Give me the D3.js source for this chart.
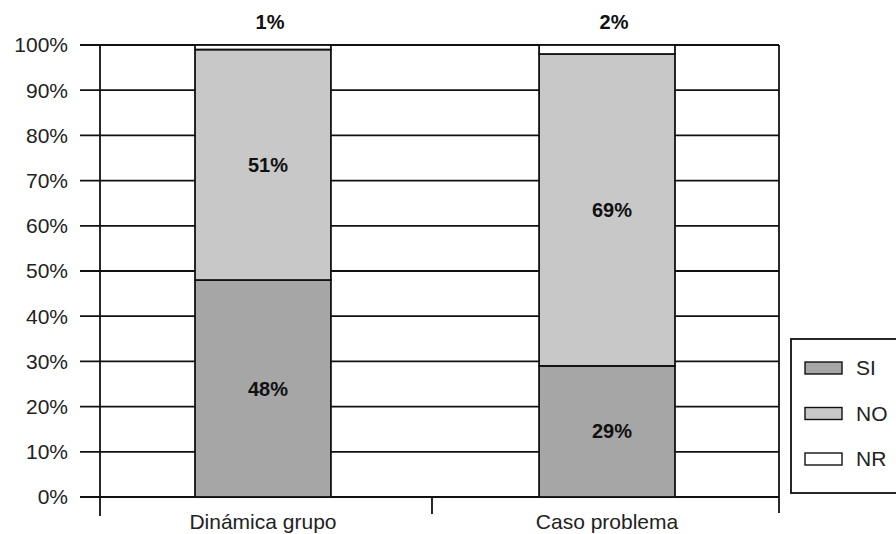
<!DOCTYPE html>
<html><head><meta charset="utf-8">
<script src="https://cdn.jsdelivr.net/npm/d3@7"></script>
<style>body{margin:0;background:#fff}svg{display:block}</style>
</head><body>
<svg id="c" width="896" height="534"></svg>
<script>
const categories = ["Dinámica grupo", "Caso problema"];
const seriesNames = ["SI", "NO", "NR"];
const SI = [48, 29];
const NO = [51, 69];
const NR = [1, 2];
const yTicks = [0, 10, 20, 30, 40, 50, 60, 70, 80, 90, 100];
const colors = {SI: "#a6a6a6", NO: "#c8c8c8", NR: "#ffffff"};

(function () {
const svg = d3.select("#c");
const font = "Liberation Sans, Arial, sans-serif";
const pL = 100, pR = 779, pT = 45, pB = 497;

const x = d3.scaleBand().domain(categories).range([91.8, 778.2]).paddingInner(0.605).paddingOuter(0.3);
const y = d3.scaleLinear().domain([0, 100]).range([pB, pT]);

const rows = categories.map((c, i) => ({cat: c, SI: SI[i], NO: NO[i], NR: NR[i]}));
const stacked = d3.stack().keys(seriesNames)(rows);

svg.append("g").selectAll("line").data(yTicks).join("line")
  .attr("x1", pL - 20).attr("x2", pR)
  .attr("y1", d => y(d)).attr("y2", d => y(d))
  .attr("stroke", "#111").attr("stroke-width", 1.8);

svg.append("g").selectAll("text").data(yTicks).join("text")
  .attr("x", 68).attr("y", d => y(d)).attr("dy", "0.35em")
  .attr("text-anchor", "end").attr("font-family", font).attr("font-size", 21)
  .attr("fill", "#222").text(d => d + "%");

svg.append("line").attr("x1", pL).attr("x2", pL).attr("y1", pT).attr("y2", 516)
  .attr("stroke", "#111").attr("stroke-width", 1.8);
svg.append("line").attr("x1", pR).attr("x2", pR).attr("y1", pT).attr("y2", 513)
  .attr("stroke", "#111").attr("stroke-width", 1.8);
svg.append("line").attr("x1", 432).attr("x2", 432).attr("y1", pB).attr("y2", 514)
  .attr("stroke", "#111").attr("stroke-width", 1.8);

svg.append("g").selectAll("g").data(stacked).join("g")
  .attr("fill", d => colors[d.key])
  .selectAll("rect").data(d => d).join("rect")
  .attr("x", d => x(d.data.cat)).attr("width", x.bandwidth())
  .attr("y", d => y(d[1])).attr("height", d => y(d[0]) - y(d[1]))
  .attr("stroke", "#111").attr("stroke-width", 1.8);

stacked.filter(s => s.key !== "NR").forEach(s => {
  svg.append("g").selectAll("text").data(s).join("text")
    .attr("x", d => x(d.data.cat) + x.bandwidth() / 2 + 5)
    .attr("y", d => (y(d[0]) + y(d[1])) / 2).attr("dy", "0.35em")
    .attr("text-anchor", "middle").attr("font-family", font).attr("font-size", 20)
    .attr("font-weight", "bold").attr("fill", "#111")
    .text(d => (d[1] - d[0]) + "%");
});
svg.append("g").selectAll("text").data(rows).join("text")
  .attr("x", d => x(d.cat) + x.bandwidth() / 2 + 7).attr("y", 22).attr("dy", "0.35em")
  .attr("text-anchor", "middle").attr("font-family", font).attr("font-size", 20)
  .attr("font-weight", "bold").attr("fill", "#111").text(d => d.NR + "%");

svg.append("g").selectAll("text").data(categories).join("text")
  .attr("x", d => x(d) + x.bandwidth() / 2).attr("y", 522).attr("dy", "0.35em")
  .attr("text-anchor", "middle").attr("font-family", font).attr("font-size", 21)
  .attr("fill", "#222").text(d => d);

const lg = svg.append("g");
lg.append("rect").attr("x", 791).attr("y", 339).attr("width", 110).attr("height", 154)
  .attr("fill", "#fff").attr("stroke", "#111").attr("stroke-width", 1.8);
seriesNames.forEach((k, i) => {
  const yy = 368 + i * 45.5;
  lg.append("rect").attr("x", 805).attr("y", yy - 6).attr("width", 37).attr("height", 12)
    .attr("fill", colors[k]).attr("stroke", "#111").attr("stroke-width", 1.4);
  lg.append("text").attr("x", 856).attr("y", yy).attr("dy", "0.35em")
    .attr("font-family", font).attr("font-size", 21).attr("fill", "#222").text(k);
});
})();
</script>
</body></html>
